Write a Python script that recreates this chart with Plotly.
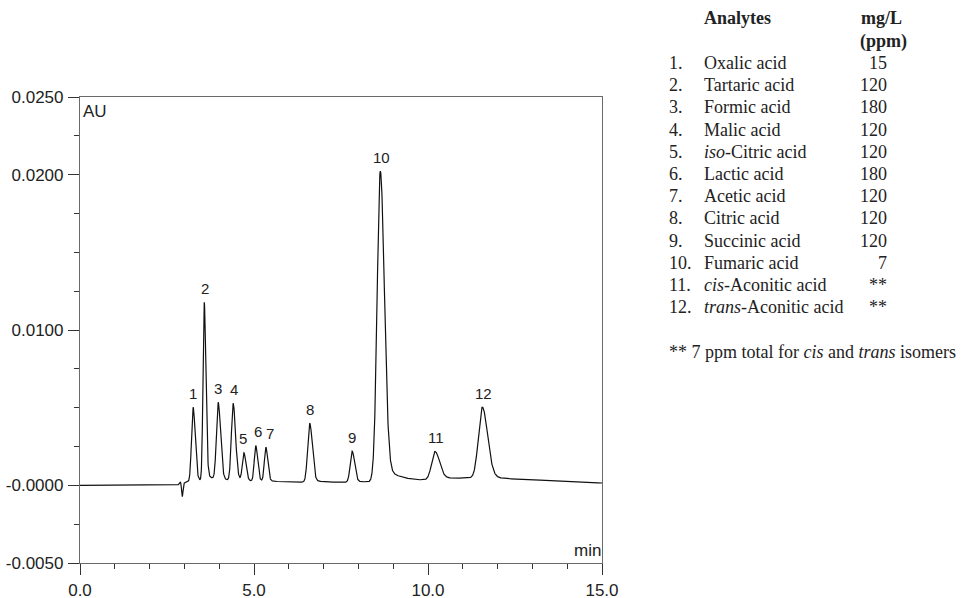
import numpy as np
import plotly.graph_objects as go

# ---------------- data ----------------
peak_ids = ["1", "2", "3", "4", "5", "6", "7", "8", "9", "10", "11", "12"]
peak_times = [3.25, 3.57, 3.97, 4.40, 4.71, 5.05, 5.34, 6.60, 7.82, 8.63, 10.20, 11.56]
peak_heights = [0.0048, 0.0115, 0.0050, 0.0050, 0.0018, 0.0023, 0.0022, 0.0038, 0.0020, 0.0200, 0.0018, 0.0046]
peak_sigma_left = [0.045, 0.035, 0.050, 0.050, 0.045, 0.042, 0.042, 0.058, 0.055, 0.090, 0.095, 0.110]
peak_sigma_right = [0.060, 0.048, 0.068, 0.068, 0.058, 0.055, 0.055, 0.075, 0.070, 0.115, 0.130, 0.150]
peak_tail_amp = [0.05, 0.05, 0.05, 0.05, 0.05, 0.05, 0.05, 0.05, 0.05, 0.06, 0.08, 0.06]
peak_tail_tau = [0.25, 0.25, 0.25, 0.25, 0.25, 0.25, 0.25, 0.25, 0.25, 0.45, 0.40, 0.40]

baseline_times = [0.0, 2.80, 3.10, 6.0, 8.0, 9.7, 10.5, 11.2, 13.0, 15.0]
baseline_values = [0.0, 0.00003, 0.00022, 0.0002, 0.0002, 0.00025, 0.0004, 0.00045, 0.00035, 0.00015]

dip_time = 2.94
dip_depth = -0.00085
dip_width = 0.018
bump_time = 2.88
bump_height = 0.00012
bump_width = 0.02

analyte_nums = ["1.", "2.", "3.", "4.", "5.", "6.", "7.", "8.", "9.", "10.", "11.", "12."]
analyte_names = ["Oxalic acid", "Tartaric acid", "Formic acid", "Malic acid",
                 "<i>iso</i>-Citric acid", "Lactic acid", "Acetic acid", "Citric acid",
                 "Succinic acid", "Fumaric acid", "<i>cis</i>-Aconitic acid",
                 "<i>trans</i>-Aconitic acid"]
analyte_conc = ["15", "120", "180", "120", "120", "180", "120", "120", "120", "7", "**", "**"]
footnote = "** 7 ppm total for <i>cis</i> and <i>trans</i> isomers"

x_tick_vals = [0, 5, 10, 15]
x_tick_text = ["0.0", "5.0", "10.0", "15.0"]
x_minor_vals = list(range(0, 16))
y_tick_vals = [-0.005, 0.0, 0.01, 0.02, 0.025]
y_tick_text = ["-0.0050", "-0.0000", "0.0100", "0.0200", "0.0250"]
y_minor_vals = [-0.005, -0.0025, 0.0, 0.0025, 0.005, 0.0075, 0.01, 0.0125,
                0.015, 0.0175, 0.02, 0.0225, 0.025]

# ---------------- build chromatogram from the peak table ----------------
t = np.linspace(0, 15, 3001)
signal = np.interp(t, baseline_times, baseline_values)
signal = signal + dip_depth * np.exp(-0.5 * ((t - dip_time) / dip_width) ** 2)
signal = signal + bump_height * np.exp(-0.5 * ((t - bump_time) / bump_width) ** 2)
for t0, h, sl, sr, a, tau in zip(peak_times, peak_heights, peak_sigma_left,
                                 peak_sigma_right, peak_tail_amp, peak_tail_tau):
    d = t - t0
    s = np.where(d < 0, sl, sr)
    signal = signal + h * np.exp(-0.5 * (d / s) ** 2)
    tail = np.where(d > 0, a * h * np.exp(-np.clip(d, 0, None) / tau) *
                    (1 - np.exp(-0.5 * (d / sr) ** 2)), 0.0)
    signal = signal + tail

# ---------------- figure ----------------
W, H = 964, 598
L, R, T, B = 80, 602, 97, 563
SANS = "Liberation Sans, Arial, Helvetica, sans-serif"
SERIF = "Liberation Serif, Times New Roman, serif"

fig = go.Figure()
fig.add_trace(go.Scatter(x=t, y=signal, mode="lines",
                         line=dict(color="#111111", width=1.2),
                         hoverinfo="skip", showlegend=False))

# peak labels
label_xshift = [0, 1, 0, 1, -1, 2, 4, 0, 0, 1, 1, 1]
for pid, t0, dx in zip(peak_ids, peak_times, label_xshift):
    ytop = float(np.interp(t0, t, signal))
    fig.add_annotation(x=t0, y=ytop, text=pid, showarrow=False,
                       xanchor="center", yanchor="middle", yshift=14, xshift=dx,
                       font=dict(family=SANS, size=15, color="#222222"))


def px_x(px):
    return (px - L) / (R - L)


def px_y(py):
    return (B - py) / (B - T)


# axis unit labels
fig.add_annotation(xref="paper", yref="paper", x=px_x(81), y=px_y(100), text="AU",
                   showarrow=False, xanchor="left", yanchor="top",
                   font=dict(family=SANS, size=17, color="#222222"))
fig.add_annotation(xref="paper", yref="paper", x=px_x(603), y=px_y(562), text="min",
                   showarrow=False, xanchor="right", yanchor="bottom",
                   font=dict(family=SANS, size=17, color="#222222"))

# analyte table
tf = dict(family=SERIF, size=18, color="#222222")
fig.add_annotation(xref="paper", yref="paper", x=px_x(702), y=px_y(18),
                   text="<b>Analytes</b>", showarrow=False, xanchor="left",
                   yanchor="middle", font=tf)
fig.add_annotation(xref="paper", yref="paper", x=px_x(859), y=px_y(18),
                   text="<b>mg/L</b>", showarrow=False, xanchor="left",
                   yanchor="middle", font=tf)
fig.add_annotation(xref="paper", yref="paper", x=px_x(858), y=px_y(41),
                   text="<b>(ppm)</b>", showarrow=False, xanchor="left",
                   yanchor="middle", font=tf)
for i, (num, name, conc) in enumerate(zip(analyte_nums, analyte_names, analyte_conc)):
    yy = px_y(63 + 22.2 * i)
    fig.add_annotation(xref="paper", yref="paper", x=px_x(667), y=yy, text=num,
                       showarrow=False, xanchor="left", yanchor="middle", font=tf)
    fig.add_annotation(xref="paper", yref="paper", x=px_x(702), y=yy, text=name,
                       showarrow=False, xanchor="left", yanchor="middle", font=tf)
    fig.add_annotation(xref="paper", yref="paper", x=px_x(889), y=yy, text=conc,
                       showarrow=False, xanchor="right", yanchor="middle", font=tf)
fig.add_annotation(xref="paper", yref="paper", x=px_x(667), y=px_y(352), text=footnote,
                   showarrow=False, xanchor="left", yanchor="middle", font=tf)

axis_common = dict(showline=True, linecolor="#6a6a6a", linewidth=1.2, mirror=True,
                   showgrid=False, zeroline=False, ticks="outside", automargin=False,
                   tickcolor="#333333", tickwidth=1.2, ticklen=11,
                   tickfont=dict(family=SANS, size=17, color="#222222"))

fig.update_xaxes(range=[0, 15], tickmode="array", tickvals=x_tick_vals,
                 ticktext=x_tick_text, ticklabelstandoff=0,
                 minor=dict(tickmode="array", tickvals=x_minor_vals, ticks="outside",
                            ticklen=5, tickcolor="#333333", tickwidth=1.2),
                 **axis_common)
fig.update_yaxes(range=[-0.005, 0.025], tickmode="array", tickvals=y_tick_vals,
                 ticktext=y_tick_text, ticklabelstandoff=1,
                 minor=dict(tickmode="array", tickvals=y_minor_vals, ticks="outside",
                            ticklen=5, tickcolor="#333333", tickwidth=1.2),
                 **axis_common)

fig.update_layout(width=W, height=H, margin=dict(l=L, r=W - R, t=T, b=H - B),
                  paper_bgcolor="white", plot_bgcolor="white", showlegend=False)

fig.write_html("out.html")
